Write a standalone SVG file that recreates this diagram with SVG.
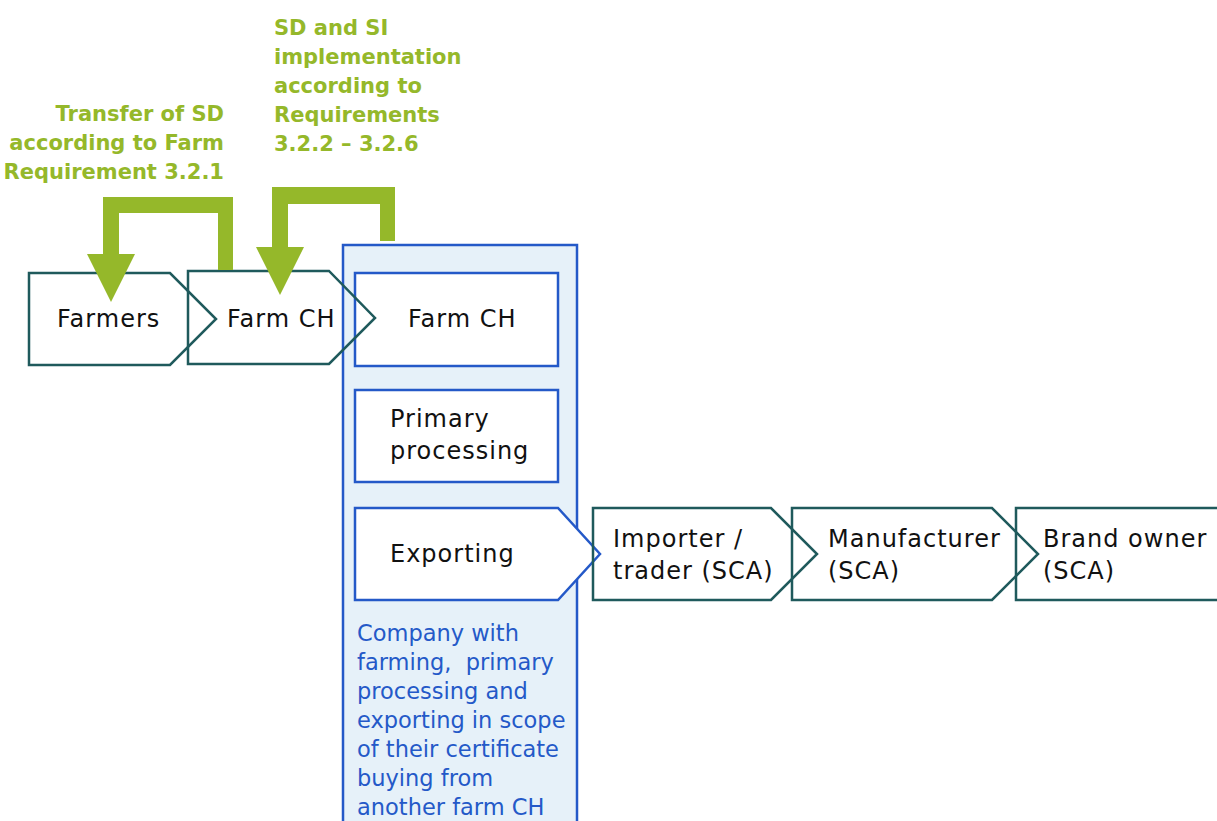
<svg xmlns="http://www.w3.org/2000/svg" width="1217" height="821" viewBox="0 0 1217 821">
<style>
.lbl{font-family:"DejaVu Sans",sans-serif;font-size:24px;letter-spacing:1px;fill:#111}
.grn{font-family:"DejaVu Sans",sans-serif;font-weight:bold;font-size:21px;fill:#95b82a}
.blu{font-family:"DejaVu Sans",sans-serif;font-size:22.5px;fill:#2459c8}
.teal{fill:none;stroke:#1f5a5c;stroke-width:2.5}
.bbox{fill:#fff;stroke:#2459c8;stroke-width:2.5}
.arr{fill:#95b82a}
</style>
<rect width="1217" height="821" fill="#fff"/>
<g id="container">
<rect x="343" y="245" width="234" height="600" fill="#e6f1f9" stroke="#2459c8" stroke-width="2.5"/>
<text class="blu"><tspan x="357" y="641">Company with</tspan><tspan x="357" y="670">farming,&#160; primary</tspan><tspan x="357" y="699">processing and</tspan><tspan x="357" y="728">exporting in scope</tspan><tspan x="357" y="757">of their certificate</tspan><tspan x="357" y="786">buying from</tspan><tspan x="357" y="815">another farm CH</tspan></text>
</g>
<g id="farmch-inner">
<rect class="bbox" x="355" y="273" width="203" height="93"/>
<text class="lbl" x="408" y="327">Farm CH</text>
</g>
<g id="primary">
<rect class="bbox" x="355" y="390" width="203" height="92"/>
<text class="lbl"><tspan x="390" y="427">Primary</tspan><tspan x="390" y="459">processing</tspan></text>
</g>
<g id="exporting">
<polygon class="bbox" points="355,508 558,508 600,554 558,600 355,600"/>
<text class="lbl" x="390" y="562">Exporting</text>
</g>
<g id="farmers">
<polygon class="teal" points="29,273 170,273 216,319 170,365 29,365"/>
<text class="lbl" x="57" y="327">Farmers</text>
</g>
<g id="farmch">
<polygon class="teal" points="188,271 329,271 375,318 329,364 188,364"/>
<text class="lbl" x="227" y="327">Farm CH</text>
</g>
<g id="importer">
<polygon class="teal" points="593,508 771,508 817,554 771,600 593,600"/>
<text class="lbl"><tspan x="613" y="547">Importer /</tspan><tspan x="613" y="579">trader (SCA)</tspan></text>
</g>
<g id="manufacturer">
<polygon class="teal" points="792,508 992,508 1038,554 992,600 792,600"/>
<text class="lbl"><tspan x="828" y="547">Manufacturer</tspan><tspan x="828" y="579">(SCA)</tspan></text>
</g>
<g id="brandowner">
<polygon class="teal" points="1016,508 1240,508 1240,600 1016,600"/>
<text class="lbl"><tspan x="1043" y="547">Brand owner</tspan><tspan x="1043" y="579">(SCA)</tspan></text>
</g>
<g id="connectors">
<polygon class="arr" points="233,270 233,197 103,197 103,254 87,254 111,302 135,254 119,254 119,213 218,213 218,270"/>
<polygon class="arr" points="395,241 395,187 272,187 272,247 256,247 280,295 304,247 288,247 288,204 380,204 380,241"/>
</g>
<g id="labels">
<text class="grn" text-anchor="end"><tspan x="224" y="121">Transfer of SD</tspan><tspan x="224" y="150">according to Farm</tspan><tspan x="224" y="179">Requirement 3.2.1</tspan></text>
<text class="grn"><tspan x="274" y="35">SD and SI</tspan><tspan x="274" y="64">implementation</tspan><tspan x="274" y="93">according to</tspan><tspan x="274" y="122">Requirements</tspan><tspan x="274" y="151">3.2.2 – 3.2.6</tspan></text>
</g>
</svg>
